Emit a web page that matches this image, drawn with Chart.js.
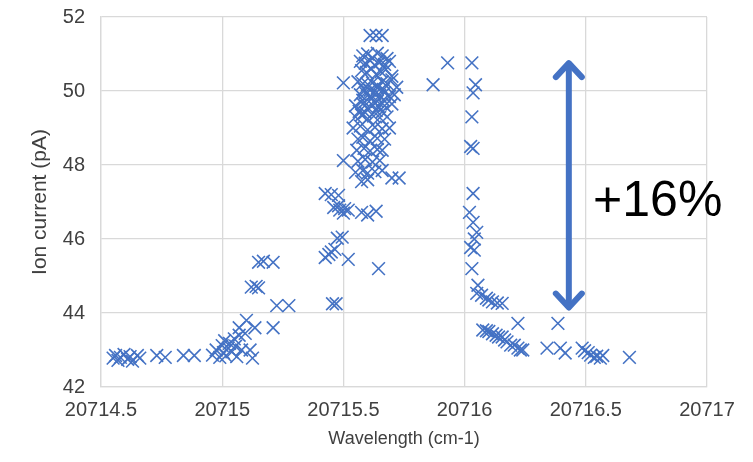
<!DOCTYPE html>
<html>
<head>
<meta charset="utf-8">
<script src="https://cdn.jsdelivr.net/npm/chart.js@4/dist/chart.umd.min.js"></script>
<style>
  html, body { margin: 0; padding: 0; background: #fff; }
  #wrap { width: 753px; height: 462px; }
</style>
</head>
<body>
<div id="wrap"><canvas id="scanChart"></canvas></div>
<script>
// Wavelength (cm-1) of each measured point
const wavelength = [
  // flat baseline on the left
  20714.55, 20714.56, 20714.57, 20714.58, 20714.595, 20714.61, 20714.62, 20714.63, 20714.65, 20714.66,
  20714.73, 20714.765, 20714.84, 20714.885,
  // cluster around 20715
  20714.96, 20714.975, 20714.99, 20715.0, 20715.005, 20715.01, 20715.015, 20715.025, 20715.03, 20715.04,
  20715.05, 20715.055, 20715.06, 20715.07, 20715.08, 20715.125, 20715.115, 20715.07, 20715.1, 20715.135,
  20715.095, 20715.21,
  // first rise
  20715.15, 20715.17, 20715.21, 20715.12, 20715.14, 20715.15, 20715.225, 20715.275,
  // shoulder below the peak
  20715.425, 20715.45, 20715.48, 20715.46, 20715.48, 20715.485, 20715.505, 20715.5, 20715.52, 20715.575,
  20715.6, 20715.635, 20715.475, 20715.495, 20715.45, 20715.465, 20715.425, 20715.44, 20715.52, 20715.645,
  20715.455, 20715.47,
  // main peak
  20715.61, 20715.635, 20715.66,
  20715.58, 20715.6, 20715.62, 20715.64, 20715.66, 20715.68,
  20715.57, 20715.59, 20715.61, 20715.63, 20715.65, 20715.67, 20715.69,
  20715.575, 20715.595, 20715.615, 20715.635, 20715.655, 20715.675, 20715.7,
  20715.5, 20715.56, 20715.58, 20715.6, 20715.62, 20715.64, 20715.66, 20715.68, 20715.72, 20715.7,
  20715.585, 20715.61, 20715.64, 20715.665,
  20715.57, 20715.59, 20715.61, 20715.63, 20715.65, 20715.67, 20715.69, 20715.71,
  20715.58, 20715.615, 20715.64, 20715.665,
  20715.55, 20715.58, 20715.6, 20715.62, 20715.645, 20715.67, 20715.7,
  20715.565, 20715.59, 20715.635, 20715.66,
  20715.55, 20715.575, 20715.6, 20715.625, 20715.65, 20715.68,
  20715.54, 20715.57, 20715.6, 20715.63, 20715.66, 20715.69,
  20715.56, 20715.58, 20715.61, 20715.64, 20715.67,
  20715.555, 20715.585, 20715.61, 20715.64, 20715.66,
  20715.5, 20715.56, 20715.59, 20715.62, 20715.65,
  20715.55, 20715.58, 20715.6, 20715.63, 20715.66,
  20715.575, 20715.6, 20715.7, 20715.73,
  // isolated points between the peaks
  20715.93, 20715.87,
  // second edge and decay
  20716.03, 20716.045, 20716.035, 20716.03, 20716.025, 20716.035, 20716.035, 20716.02, 20716.035, 20716.05,
  20716.04, 20716.025, 20716.04, 20716.03, 20716.055, 20716.05, 20716.07, 20716.09, 20716.1, 20716.115,
  20716.135, 20716.155,
  20716.075, 20716.09, 20716.1, 20716.115, 20716.13, 20716.14, 20716.155, 20716.165, 20716.175, 20716.19,
  20716.205, 20716.22, 20716.23, 20716.24, 20716.22,
  // tail on the right
  20716.34, 20716.385, 20716.395, 20716.415, 20716.485, 20716.495, 20716.51, 20716.52, 20716.535, 20716.545,
  20716.56, 20716.57, 20716.68
];

// Ion current (pA), same order as wavelength
const ionCurrent = [
  42.78, 42.85, 42.72, 42.80, 42.88, 42.75, 42.82, 42.70, 42.85, 42.78,
  42.85, 42.80, 42.85, 42.85,
  42.86, 43.0, 42.8, 43.12, 42.93, 43.25, 42.84, 43.05, 43.18, 42.95,
  43.3, 43.1, 42.82, 43.4, 43.0, 42.78, 43.0, 43.6, 43.8, 43.6,
  43.45, 43.6,
  45.37, 45.4, 45.37, 44.7, 44.72, 44.68, 44.2, 44.2,
  47.23, 47.2, 47.18, 46.85, 46.9, 46.78, 46.82, 46.7, 46.78, 46.72,
  46.65, 46.75, 46.02, 46.05, 45.65, 45.72, 45.5, 45.58, 45.45, 45.2,
  44.25, 44.25,
  51.5, 51.5, 51.5,
  50.95, 51.0, 50.9, 51.02, 50.95, 50.88,
  50.8, 50.75, 50.82, 50.7, 50.78, 50.72, 50.8,
  50.55, 50.5, 50.6, 50.45, 50.52, 50.58, 50.4,
  50.22, 50.25, 50.2, 50.18, 50.22, 50.15, 50.25, 50.2, 50.1, 50.3,
  50.05, 50.02, 50.08, 50.04,
  49.9, 49.95, 49.85, 49.92, 49.88, 49.95, 49.85, 49.9,
  49.75, 49.78, 49.72, 49.76,
  49.6, 49.65, 49.55, 49.62, 49.58, 49.6, 49.65,
  49.45, 49.42, 49.47, 49.44,
  49.3, 49.35, 49.25, 49.32, 49.28, 49.3,
  49.0, 49.05, 48.95, 49.02, 48.98, 49.0,
  48.7, 48.75, 48.65, 48.72, 48.7,
  48.4, 48.45, 48.38, 48.42, 48.4,
  48.12, 48.1, 48.15, 48.08, 48.12,
  47.8, 47.85, 47.78, 47.82, 47.85,
  47.55, 47.6, 47.65, 47.65,
  50.76, 50.17,
  50.76, 50.17, 49.95, 49.3, 48.5, 48.45, 47.23, 46.72, 46.45, 46.18,
  46.0, 45.77, 45.7, 45.2, 44.75, 44.53, 44.48, 44.4, 44.35, 44.3,
  44.27, 44.26,
  43.54, 43.52, 43.5, 43.44, 43.4, 43.35, 43.35, 43.27, 43.22, 43.13,
  43.13, 43.05, 43.0, 43.0, 43.72,
  43.05, 43.72, 43.05, 42.92, 43.05, 42.98, 42.93, 42.86, 42.8, 42.83,
  42.78, 42.85, 42.8
];

// Axis ticks
const xTicks = [20714.5, 20715, 20715.5, 20716, 20716.5, 20717];
const yTicks = [42, 44, 46, 48, 50, 52];

// Annotation: arrow spanning the signal increase, and its label
const arrowX = 20716.43;
const arrowFrom = 44.12;
const arrowTo = 50.78;
const arrowLabel = '+16%';
const labelX = 20716.53;
const labelY = 47.0;

const blue = '#4472C4';
const textGrey = '#404040';
const points = wavelength.map((w, i) => ({ x: w, y: ionCurrent[i] }));

// draws the double-headed arrow and the percentage text
const arrowPlugin = {
  id: 'arrowPlugin',
  afterDatasetsDraw(chart) {
    const ctx = chart.ctx;
    const xs = chart.scales.x, ys = chart.scales.y;
    const px = xs.getPixelForValue(arrowX);
    const top = ys.getPixelForValue(arrowTo);
    const bot = ys.getPixelForValue(arrowFrom);
    ctx.save();
    ctx.strokeStyle = blue;
    ctx.lineWidth = 6;
    ctx.lineCap = 'round';
    ctx.lineJoin = 'round';
    ctx.beginPath();
    ctx.moveTo(px, top + 2);
    ctx.lineTo(px, bot - 2);
    ctx.stroke();
    // heads
    ctx.beginPath();
    ctx.moveTo(px - 13, top + 15);
    ctx.lineTo(px, top + 1);
    ctx.lineTo(px + 13, top + 15);
    ctx.moveTo(px - 13, bot - 15);
    ctx.lineTo(px, bot - 1);
    ctx.lineTo(px + 13, bot - 15);
    ctx.stroke();
    ctx.fillStyle = '#000';
    ctx.font = '50px "Liberation Sans", Arial, sans-serif';
    ctx.textAlign = 'left';
    ctx.textBaseline = 'middle';
    ctx.fillText(arrowLabel, xs.getPixelForValue(labelX), ys.getPixelForValue(labelY));
    ctx.restore();
  }
};

new Chart(document.getElementById('scanChart'), {
  type: 'scatter',
  data: {
    datasets: [{
      label: 'Ion current',
      data: points,
      pointStyle: 'crossRot',
      pointRadius: 9,
      pointHoverRadius: 9,
      borderColor: blue,
      backgroundColor: blue,
      pointBorderWidth: 1.6
    }]
  },
  options: {
    responsive: true,
    maintainAspectRatio: false,
    animation: false,
    layout: { padding: { left: 0, right: 46, top: 17, bottom: 0 } },
    plugins: {
      legend: { display: false },
      tooltip: { enabled: false }
    },
    scales: {
      x: {
        type: 'linear',
        min: 20714.5,
        max: 20717,
        afterBuildTicks: s => { s.ticks = xTicks.map(v => ({ value: v })); },
        afterFit: s => { s.height = 75; s.paddingLeft = 0; s.paddingRight = 0; },
        grid: { color: '#d9d9d9', lineWidth: 1.3, drawTicks: false },
        border: { color: '#d9d9d9', width: 1.3 },
        ticks: {
          color: textGrey,
          padding: 11,
          maxRotation: 0,
          font: { family: '"Liberation Sans", Arial, sans-serif', size: 20 },
          callback: v => String(v)
        },
        title: {
          display: true,
          text: 'Wavelength (cm-1)',
          color: textGrey,
          padding: { top: 0, bottom: 12 },
          font: { family: '"Liberation Sans", Arial, sans-serif', size: 18 }
        }
      },
      y: {
        min: 42,
        max: 52,
        afterBuildTicks: s => { s.ticks = yTicks.map(v => ({ value: v })); },
        afterFit: s => { s.width = 101; s.paddingTop = 0; s.paddingBottom = 0; },
        grid: { color: '#d9d9d9', lineWidth: 1.3, drawTicks: false },
        border: { color: '#d9d9d9', width: 1.3 },
        ticks: {
          color: textGrey,
          padding: 16,
          font: { family: '"Liberation Sans", Arial, sans-serif', size: 20 }
        },
        title: {
          display: true,
          text: 'Ion current (pA)',
          color: textGrey,
          padding: { top: 28, bottom: 0 },
          font: { family: '"Liberation Sans", Arial, sans-serif', size: 21 }
        }
      }
    }
  },
  plugins: [arrowPlugin]
});
</script>
</body>
</html>
